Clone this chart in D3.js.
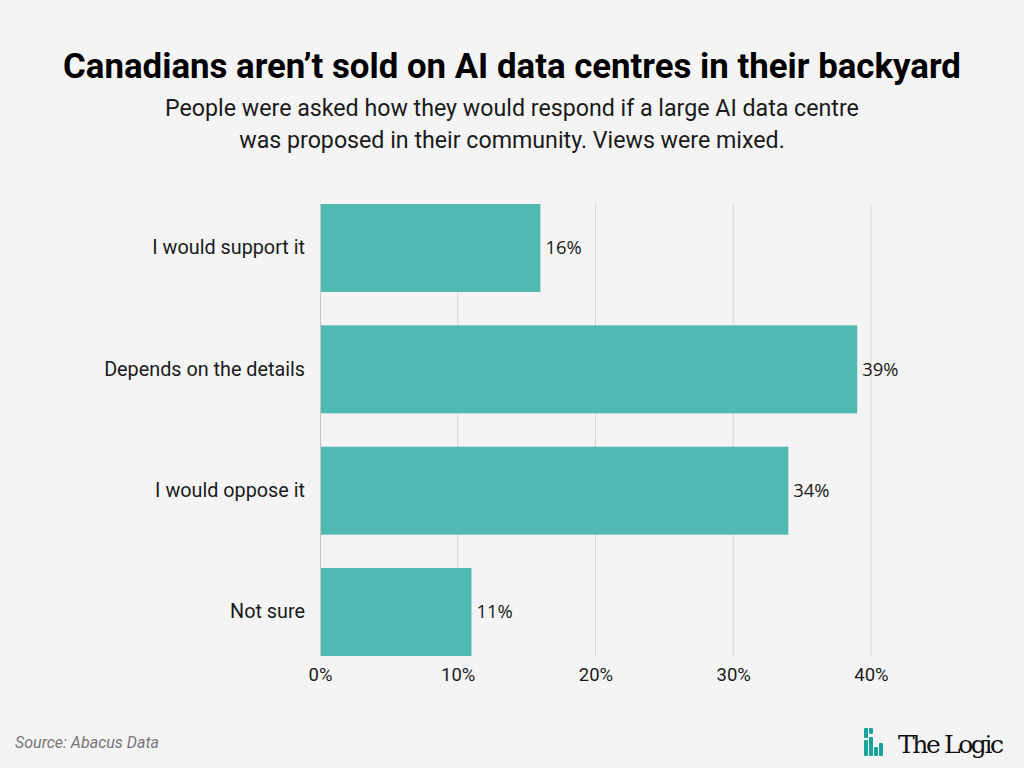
<!DOCTYPE html>
<html>
<head>
<meta charset="utf-8">
<script src="https://cdn.jsdelivr.net/npm/d3@7"></script>
<style>
  html, body { margin: 0; padding: 0; background: #f4f4f4; }
  svg { display: block; }
</style>
</head>
<body>
<div id="chart"></div>
<script>
// survey answers, top to bottom
const categories = ["I would support it", "Depends on the details", "I would oppose it", "Not sure"];
const shares = [16, 39, 34, 11];
const xTicks = [0, 10, 20, 30, 40];

const title = "Canadians aren\u2019t sold on AI data centres in their backyard";
const subtitle = [
  "People were asked how they would respond if a large AI data centre",
  "was proposed in their community. Views were mixed."
];

const W = 1024, H = 768;
const margin = { top: 204, right: 153, bottom: 112, left: 320 };
const width = W - margin.left - margin.right,
  height = H - margin.top - margin.bottom;

const svg = d3.select("#chart")
  .append("svg")
  .attr("width", W)
  .attr("height", H);

svg.append("rect").attr("width", W).attr("height", H).attr("fill", "#f4f4f4");

// titles
svg.append("text")
  .attr("x", W / 2).attr("y", 78)
  .attr("text-anchor", "middle")
  .style("font-family", "Roboto").style("font-weight", 700)
  .style("font-size", "34.8px").attr("fill", "#000")
  .text(title);

svg.selectAll(".sub")
  .data(subtitle)
  .join("text")
  .attr("class", "sub")
  .attr("x", W / 2)
  .attr("y", (d, i) => 115.5 + i * 32)
  .attr("text-anchor", "middle")
  .style("font-family", "Roboto").style("font-size", "23.2px")
  .attr("fill", "#1a1a1a")
  .text(d => d);

const g = svg.append("g")
  .attr("transform", `translate(${margin.left},${margin.top})`);

const x = d3.scaleLinear()
  .domain([0, 40])
  .range([0, 551]);

const y = d3.scaleBand()
  .domain(categories)
  .range([0, height])
  .paddingInner(0.275)
  .paddingOuter(0);

// grid lines
g.selectAll(".grid")
  .data(xTicks.slice(1))
  .join("line")
  .attr("class", "grid")
  .attr("x1", d => x(d)).attr("x2", d => x(d))
  .attr("y1", 0).attr("y2", height)
  .attr("stroke", "#d6d6d6").attr("stroke-width", 1);

// x axis labels
const xAxis = g.append("g")
  .attr("transform", `translate(0,${height})`)
  .call(d3.axisBottom(x).tickValues(xTicks).tickFormat(d => d + "%").tickSize(0).tickPadding(12));
xAxis.select(".domain").remove();
xAxis.selectAll("text")
  .style("font-family", "Roboto").style("font-size", "18.5px").attr("fill", "#1a1a1a");

// bars
g.selectAll(".bar")
  .data(shares)
  .join("rect")
  .attr("class", "bar")
  .attr("x", x(0))
  .attr("y", (d, i) => y(categories[i]))
  .attr("width", d => x(d) - x(0))
  .attr("height", y.bandwidth())
  .attr("fill", "#4fb9b2");

// y axis line + labels
g.append("line")
  .attr("x1", 0.5).attr("x2", 0.5)
  .attr("y1", 0).attr("y2", height)
  .attr("stroke", "#c4c4c4");

const yAxis = g.append("g")
  .call(d3.axisLeft(y).tickSize(0).tickPadding(15));
yAxis.select(".domain").remove();
yAxis.selectAll("text")
  .style("font-family", "Roboto").style("font-size", "19.8px").attr("fill", "#1a1a1a");

// value labels
g.selectAll(".val")
  .data(shares)
  .join("text")
  .attr("class", "val")
  .attr("x", d => x(d) + 5)
  .attr("y", (d, i) => y(categories[i]) + y.bandwidth() / 2)
  .attr("dy", "0.35em")
  .style("font-family", "Open Sans").style("font-size", "18.4px")
  .attr("fill", "#1a1a1a")
  .text(d => d + "%");

// footer
svg.append("text")
  .attr("x", 15).attr("y", 748)
  .style("font-family", "Roboto").style("font-style", "italic")
  .style("font-size", "16px").attr("fill", "#777")
  .text("Source: Abacus Data");

// logo
const logo = svg.append("g").attr("transform", "translate(864,728)");
const logoBars = [
  [0, 0, 4, 10], [0, 12, 4, 16],
  [5, 0, 4, 6], [5, 9, 4, 19],
  [10, 19, 4, 9],
  [15, 15, 4, 13]
];
logo.selectAll("rect")
  .data(logoBars)
  .join("rect")
  .attr("x", d => d[0]).attr("y", d => d[1])
  .attr("width", d => d[2]).attr("height", d => d[3])
  .attr("rx", 1)
  .attr("fill", "#1aa39a");
svg.append("text")
  .attr("x", 898).attr("y", 753)
  .style("font-family", "DejaVu Serif, Liberation Serif, serif")
  .style("font-size", "25px").attr("fill", "#111")
  .attr("textLength", 106)
  .text("The Logic");
</script>
</body>
</html>
